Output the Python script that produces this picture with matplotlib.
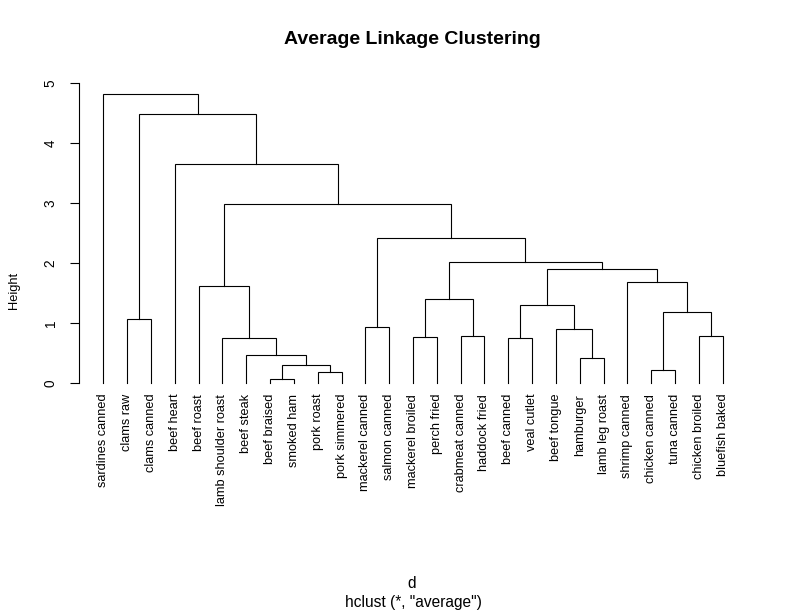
import matplotlib
matplotlib.use("Agg")
import matplotlib.pyplot as plt

plt.rcParams['font.family'] = ['Liberation Sans', 'DejaVu Sans']

# leaf labels in plotting order
labels = ["sardines canned", "clams raw", "clams canned", "beef heart", "beef roast",
          "lamb shoulder roast", "beef steak", "beef braised", "smoked ham", "pork roast",
          "pork simmered", "mackerel canned", "salmon canned", "mackerel broiled",
          "perch fried", "crabmeat canned", "haddock fried", "beef canned", "veal cutlet",
          "beef tongue", "hamburger", "lamb leg roast", "shrimp canned", "chicken canned",
          "tuna canned", "chicken broiled", "bluefish baked"]

# merge steps, R style: negative = leaf (1-based), positive = earlier merge
merge_a = [-8, -10, -24, 1, -21, -7, -6, -18, -14, -16, -26, -20, -12,
           -2, 3, 8, 9, -5, -23, 16, 17, 13, 18, -4, 14, -1]
merge_b = [-9, -11, -25, 2, -22, 4, 6, -19, -15, -17, -27, 5, -13,
           -3, 11, 12, 10, 7, 15, 19, 20, 21, 22, 23, 24, 25]
merge_h = [0.067, 0.183, 0.217, 0.30, 0.417, 0.467, 0.75, 0.75, 0.767, 0.783,
           0.783, 0.905, 0.933, 1.067, 1.183, 1.30, 1.40, 1.617, 1.683, 1.90,
           2.017, 2.417, 2.983, 3.65, 4.483, 4.817]

W, H = 788, 613
fig = plt.figure(figsize=(W / 100, H / 100), dpi=100)
ax = fig.add_axes([78.5 / W, (H - 394.9) / H, (747.5 - 78.5) / W, (394.9 - 82.7) / H])

n = len(labels)
node_x = []
node_h = []


def pos(i):
    if i < 0:
        return -i, 0.0
    return node_x[i - 1], node_h[i - 1]


for a, b, h in zip(merge_a, merge_b, merge_h):
    xa, ha = pos(a)
    xb, hb = pos(b)
    ax.plot([xa, xa, xb, xb], [ha, h, h, hb], color='black', lw=0.8,
            solid_joinstyle='miter', solid_capstyle='projecting')
    node_x.append((xa + xb) / 2)
    node_h.append(h)

for i, lab in enumerate(labels):
    ax.annotate(lab, xy=(i + 1, 0), xytext=(0, -7.5), textcoords='offset points',
                rotation=90, ha='center', va='top', fontsize=9.2)

top = max(merge_h)
ax.set_xlim(1 - 0.04 * (n - 1), n + 0.04 * (n - 1))
ax.set_ylim(-0.04 * top, top * 1.04)

for s in ['top', 'right', 'bottom']:
    ax.spines[s].set_visible(False)
ax.spines['left'].set_bounds(0, 5)
ax.spines['left'].set_linewidth(0.8)
ax.set_xticks([])
ax.set_yticks(range(6))
ax.set_yticklabels([str(v) for v in range(6)], rotation=90, va='center', fontsize=9.8)
ax.tick_params(axis='y', length=6.5, width=0.8, pad=8.5)

fig.text(412.5 / W, 1 - 40 / H, "Average Linkage Clustering", ha='center', va='center',
         fontsize=14, fontweight='bold')
fig.text(14 / W, 1 - 290.5 / H, "Height", rotation=90, ha='center', va='center', fontsize=9.3)
fig.text(412 / W, 1 - 583 / H, "d", ha='center', va='center', fontsize=11.2)
fig.text(413 / W, 1 - 603 / H, 'hclust (*, "average")', ha='center', va='center', fontsize=11.2)

fig.savefig("out.png", dpi=100)
